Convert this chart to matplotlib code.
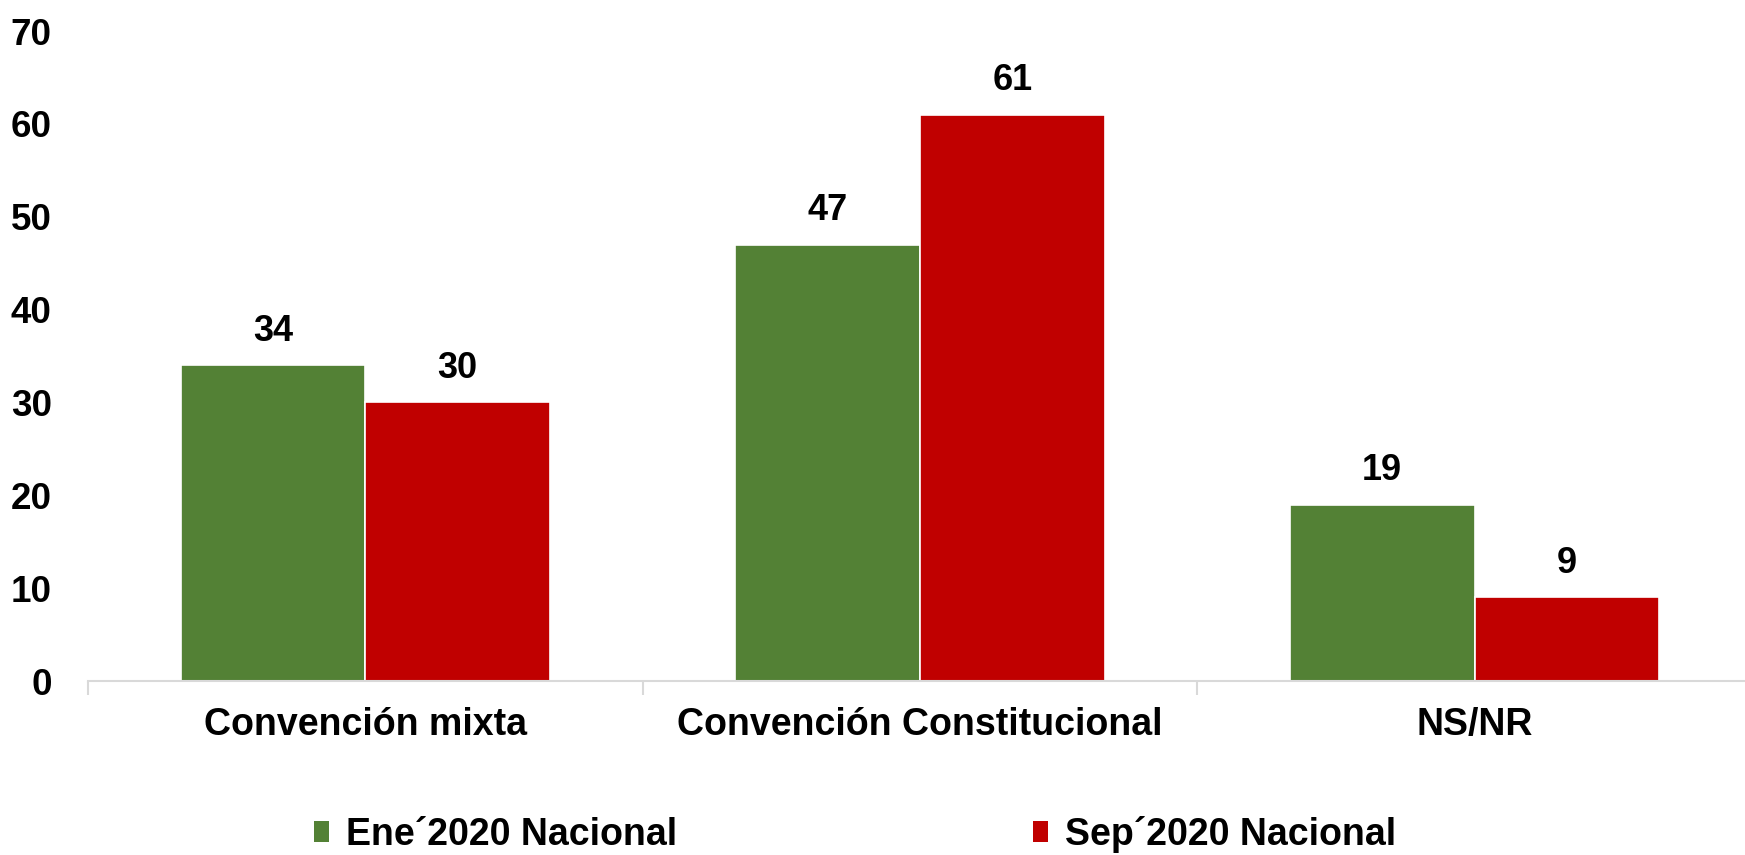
import matplotlib.pyplot as plt
import numpy as np
from matplotlib.patches import Patch

categories = ['Convención mixta', 'Convención Constitucional', 'NS/NR']
ene_2020 = [34, 47, 19]
sep_2020 = [30, 61, 9]
series_names = ['Ene´2020 Nacional', 'Sep´2020 Nacional']
colors = ['#538135', '#C00000']
y_ticks = [0, 10, 20, 30, 40, 50, 60, 70]

plt.rcParams['font.family'] = ['Liberation Sans', 'DejaVu Sans']
plt.rcParams['font.weight'] = 'bold'

fig = plt.figure(figsize=(17.45, 8.55), dpi=100)
ax = fig.add_axes([0.0504, 0.2035, 0.9536, 0.7602])

x = np.arange(len(categories))
width = 0.333
for offset, values, color, name in [(-width / 2, ene_2020, colors[0], series_names[0]),
                                     (width / 2, sep_2020, colors[1], series_names[1])]:
    bars = ax.bar(x + offset, values, width, color=color, edgecolor='white', linewidth=1.2, label=name)
    for bar, v in zip(bars, values):
        ax.annotate(str(v), (bar.get_x() + bar.get_width() / 2, v), xytext=(0, 12),
                    textcoords='offset points', ha='center', va='bottom',
                    fontsize=26, fontweight='bold', color='black')

ax.set_xlim(-0.5, len(categories) - 0.5)
ax.set_ylim(0, 70)
ax.set_yticks(y_ticks)
ax.set_yticklabels([str(t) for t in y_ticks], fontsize=26.5, fontweight='bold')
ax.tick_params(axis='y', length=0, pad=26)

ax.set_xticks(x)
ax.set_xticklabels(categories, fontsize=27, fontweight='bold')
ax.tick_params(axis='x', length=0, pad=19)
ax.set_xticks(np.arange(len(categories) + 1) - 0.5, minor=True)
ax.tick_params(axis='x', which='minor', length=10, color='#d9d9d9', width=1.5)

for side in ['top', 'right', 'left']:
    ax.spines[side].set_visible(False)
ax.spines['bottom'].set_color('#d9d9d9')
ax.spines['bottom'].set_linewidth(1.5)

handles = [Patch(facecolor=c) for c in colors]
fig.legend(handles, series_names, loc='center', bbox_to_anchor=(0.49, 0.024), ncol=2,
           frameon=False, prop={'weight': 'bold', 'size': 27},
           handlelength=0.4, handleheight=0.5, handletextpad=0.45, columnspacing=9.5)

fig.savefig('out.png', dpi=100)
